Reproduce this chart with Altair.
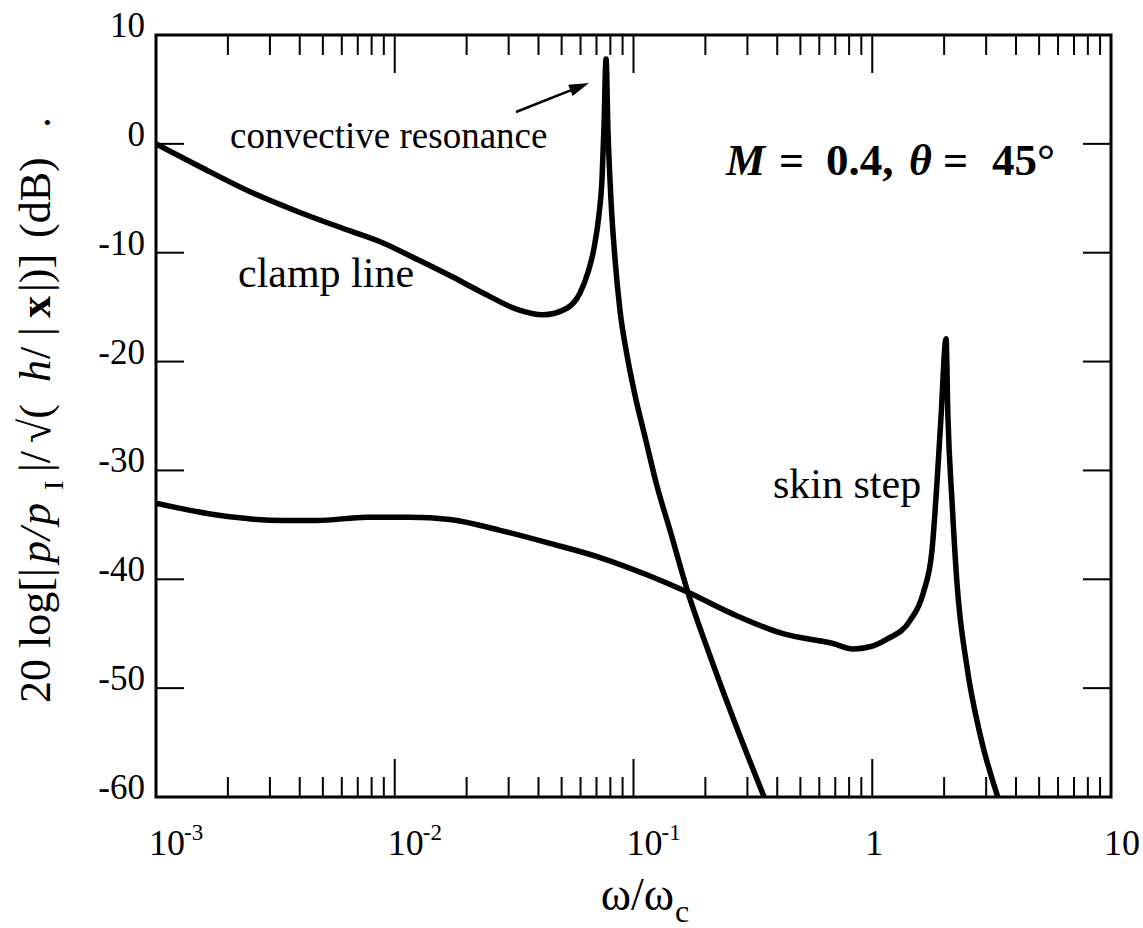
import altair as alt
import pandas as pd

# ---------------- data ----------------
CLAMP_X = [0.001, 0.001528, 0.002477, 0.004009, 0.006501, 0.008933, 0.01239, 0.01702,
           0.02344, 0.03251, 0.04178, 0.0526, 0.0597, 0.06449, 0.06832, 0.07169, 0.07379,
           0.07516, 0.07674, 0.07816, 0.0805, 0.08375, 0.08778, 0.09391, 0.1015, 0.1117,
           0.1253, 0.1422, 0.169, 0.2089, 0.2661, 0.3524]
CLAMP_DB = [0.0, -2.1, -4.4, -6.3, -8.0, -9.1, -10.6, -12.1,
            -13.7, -15.2, -15.7, -15.1, -13.7, -11.8, -9.6, -6.5, -3.3,
            1.3, 7.8, 1.3, -5.2, -10.7, -15.3, -19.4, -23.1, -26.9,
            -31.4, -35.5, -41.2, -47.0, -53.2, -60.0]

SKIN_X = [0.001, 0.001803, 0.003404, 0.004721, 0.007656, 0.01159, 0.01702, 0.02761,
          0.04467, 0.07244, 0.1172, 0.169, 0.2612, 0.4227, 0.6855, 0.8299,
          0.9772, 1.153, 1.439, 1.633, 1.778, 1.866, 1.941, 2.037, 2.075, 2.158,
          2.265, 2.495, 2.825, 3.357]
SKIN_DB = [-33.0, -34.1, -34.6, -34.6, -34.3, -34.3, -34.5, -35.5,
           -36.7, -38.0, -39.7, -41.2, -43.2, -45.0, -45.9, -46.4,
           -46.2, -45.5, -43.8, -41.3, -37.4, -31.2, -25.1, -17.9, -25.1, -32.8,
           -40.4, -48.1, -54.2, -60.0]

X_DECADES = [0.001, 0.01, 0.1, 1, 10]
X_BASE_LABELS = ["10", "10", "10", "1", "10"]
X_EXPONENTS = ["-3", "-2", "-1", "", ""]
X_MINOR_MULT = [2, 3, 4, 5, 6, 7, 8, 9]
X_MINOR_DECADES = [0.001, 0.01, 0.1, 1]
Y_TICKS = [-60, -50, -40, -30, -20, -10, 0, 10]
Y_TICK_LABELS = ["-60", "-50", "-40", "-30", "-20", "-10", "0", "10"]

# ---------------- layout ----------------
W, H = 955, 762
LEFT, TOP = 156, 35
FONT = "Liberation Serif"

curves = pd.DataFrame({
    "x": CLAMP_X + SKIN_X,
    "y": CLAMP_DB + SKIN_DB,
    "series": ["clamp line"] * len(CLAMP_X) + ["skin step"] * len(SKIN_X),
})
major = pd.DataFrame({"v": X_DECADES, "base": X_BASE_LABELS, "exp": X_EXPONENTS})
minor = pd.DataFrame({"v": [m * d for d in X_MINOR_DECADES for m in X_MINOR_MULT]})
yt = pd.DataFrame({"v": Y_TICKS, "lab": Y_TICK_LABELS})

xscale = alt.Scale(type="log", domain=[0.001, 10], nice=False)
yscale = alt.Scale(domain=[-60, 10], nice=False, zero=False)

XQ = alt.X("v:Q", scale=xscale, axis=None)
YQ = alt.Y("v:Q", scale=yscale, axis=None)

lines = alt.Chart(curves).mark_line(
    color="black", strokeWidth=5.5, interpolate="monotone", clip=True,
    strokeJoin="miter", strokeMiterLimit=20, strokeCap="butt"
).encode(
    x=alt.X("x:Q", scale=xscale, axis=None),
    y=alt.Y("y:Q", scale=yscale, axis=None),
    detail="series:N",
)

def xrule(df, y1, y2):
    return alt.Chart(df).mark_rule(color="black", strokeWidth=2).encode(
        x=XQ, y=alt.value(y1), y2=alt.value(y2))

def yrule(x1, x2):
    return alt.Chart(yt).mark_rule(color="black", strokeWidth=2).encode(
        y=YQ, x=alt.value(x1), x2=alt.value(x2))

ticks = [
    xrule(major, H, H - 38), xrule(major, 0, 38),
    xrule(minor, H, H - 20), xrule(minor, 0, 20),
    yrule(0, 28), yrule(W - 28, W),
]

ylabels = alt.Chart(yt).mark_text(
    align="right", baseline="alphabetic", dy=2, font=FONT, fontSize=35, color="black"
).encode(y=YQ, x=alt.value(-11), text="lab:N")

xbase = alt.Chart(major).mark_text(
    align="left", baseline="alphabetic", dx=-7, font=FONT, fontSize=36, color="black"
).encode(x=XQ, y=alt.value(H + 58), text="base:N")
xexp = alt.Chart(major).mark_text(
    align="left", baseline="alphabetic", dx=28, font=FONT, fontSize=23, color="black"
).encode(x=XQ, y=alt.value(H + 43), text="exp:N")

ONE = alt.Data(values=[{}])

def txt(text, x, y, size, style="normal", weight="normal", angle=0, align="left"):
    return alt.Chart(ONE).mark_text(
        text=text, align=align, baseline="alphabetic", font=FONT, fontSize=size,
        fontStyle=style, fontWeight=weight, angle=angle, color="black"
    ).encode(x=alt.value(x), y=alt.value(y))

# rotated y title, built from segments (original-image coordinates)
TB = 50 - LEFT
title_segs = [
    ("20 log[|", 703, TB, 44, "normal", "normal"),
    ("p", 563, TB, 44, "italic", "normal"),
    ("/", 540, TB, 44, "italic", "normal"),
    ("p", 525, TB, 44, "italic", "normal"),
    ("I", 490, 63 - LEFT, 28, "normal", "normal"),
    ("|/", 472, TB, 44, "normal", "normal"),
    ("√(", 443, TB, 44, "normal", "normal"),
    ("h", 382, TB, 44, "italic", "normal"),
    ("/", 359, TB, 44, "normal", "normal"),
    ("|", 336, TB, 44, "normal", "normal"),
    ("x", 318, TB, 44, "normal", "bold"),
    ("|)]", 292, TB, 44, "normal", "normal"),
    ("(dB)", 238, TB, 44, "normal", "normal"),
    (".", 128, TB, 44, "normal", "normal"),
]
ytitle = [txt(t, x, y - TOP, s, st, wt, angle=270) for t, y, x, s, st, wt in title_segs]

# x title
xtitle = [
    txt("ω/ω", 674 - LEFT, 910 - TOP, 46, align="right"),
    txt("c", 675 - LEFT, 922 - TOP, 32),
]

# annotations
annots = [
    txt("convective resonance", 230 - LEFT, 148 - TOP, 37),
    txt("clamp line", 238 - LEFT, 287 - TOP, 42),
    txt("skin step", 773 - LEFT, 498 - TOP, 42),
    txt("M", 726 - LEFT, 175 - TOP, 44, "italic", "bold"),
    txt("=", 779 - LEFT, 175 - TOP, 44, "normal", "bold"),
    txt("0.4,", 826 - LEFT, 175 - TOP, 45, "normal", "bold"),
    txt("θ", 909 - LEFT, 175 - TOP, 44, "italic", "bold"),
    txt("=", 943 - LEFT, 175 - TOP, 44, "normal", "bold"),
    txt("45°", 992 - LEFT, 175 - TOP, 45, "normal", "bold"),
]

arrow_line = alt.Chart(ONE).mark_rule(color="black", strokeWidth=2.5).encode(
    x=alt.value(516 - LEFT), y=alt.value(112 - TOP),
    x2=alt.value(580 - LEFT), y2=alt.value(86.7 - TOP))
arrow_head = alt.Chart(ONE).mark_point(
    shape="M1,0L-1,-0.6L-1,0.6Z", filled=True, color="black", opacity=1,
    size=400, angle=338.4
).encode(x=alt.value(579.7 - LEFT), y=alt.value(86.7 - TOP))

chart = alt.layer(
    lines, *ticks, ylabels, xbase, xexp, *ytitle, *xtitle, *annots, arrow_line, arrow_head
).properties(
    width=W, height=H,
    autosize=alt.AutoSizeParams(type="none"),
    padding={"left": LEFT, "top": TOP, "right": 1143 - LEFT - W, "bottom": 928 - TOP - H},
).configure_view(stroke="black", strokeWidth=3)

chart.save("out.html", embed_options={"renderer": "svg", "actions": False})
